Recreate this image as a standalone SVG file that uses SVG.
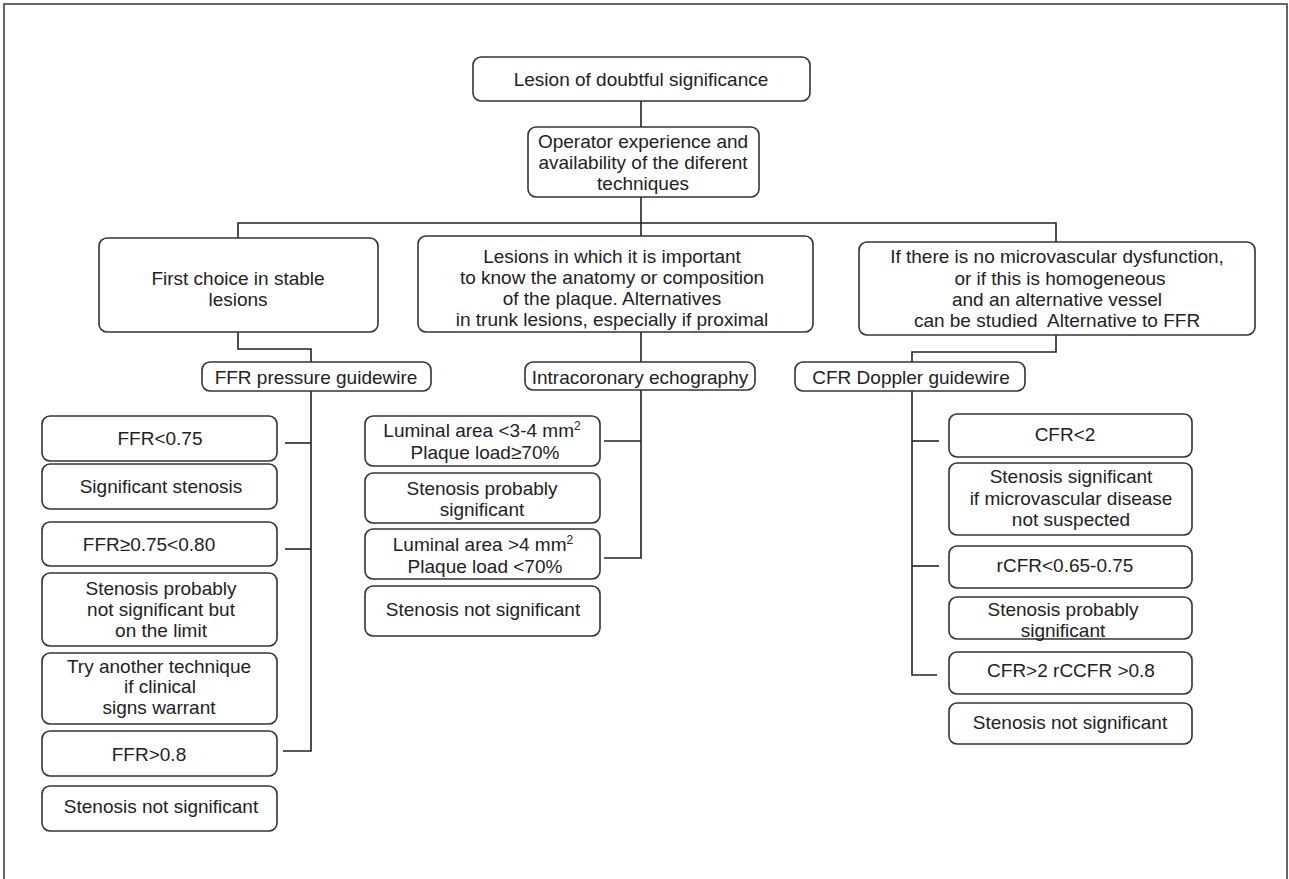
<svg xmlns="http://www.w3.org/2000/svg" width="1289" height="879" viewBox="0 0 1289 879">
<style>
.box{fill:#fff;stroke:#333;stroke-width:1.6}
.t{font-family:"Liberation Sans",Arial,sans-serif;font-size:19px;fill:#222;text-anchor:middle}
.sup{font-size:12px}
.c{fill:none;stroke:#222;stroke-width:1.6}
.frame{fill:none;stroke:#666;stroke-width:2}
</style>
<rect x="0" y="0" width="1289" height="879" fill="#fff"/>
<path class="frame" d="M4,879 V4 H1287 V879"/>
<g id="connectors">
<path class="c" d="M641,101 V127"/>
<path class="c" d="M641,197 V236"/>
<path class="c" d="M238,238 V223 H1056 V242"/>
<path class="c" d="M238,332 V349 H311 V362"/>
<path class="c" d="M311,391 V751 H283"/>
<path class="c" d="M285,443 H311"/>
<path class="c" d="M285,549 H311"/>
<path class="c" d="M641,332 V362"/>
<path class="c" d="M641,390 V558 H604"/>
<path class="c" d="M604,441 H641"/>
<path class="c" d="M1056,335 V352 H912 V362"/>
<path class="c" d="M912,391 V675 H937"/>
<path class="c" d="M912,441 H939"/>
<path class="c" d="M912,566 H939"/>
</g>
<g id="n-lesion"><rect class="box" x="473" y="57" width="337" height="44" rx="8"/><text class="t" x="641" y="86">Lesion of doubtful significance</text></g>
<g id="n-operator"><rect class="box" x="528" y="127" width="231" height="70" rx="8"/><text class="t" x="643" y="148">Operator experience and</text><text class="t" x="643" y="169">availability of the diferent</text><text class="t" x="643" y="190">techniques</text></g>
<g id="n-first"><rect class="box" x="99" y="238" width="279" height="94" rx="8"/><text class="t" x="238" y="285">First choice in stable</text><text class="t" x="238" y="306">lesions</text></g>
<g id="n-lesions-imp"><rect class="box" x="418" y="236" width="395" height="96" rx="8"/><text class="t" x="612" y="263">Lesions in which it is important</text><text class="t" x="612" y="284">to know the anatomy or composition</text><text class="t" x="612" y="305">of the plaque. Alternatives</text><text class="t" x="612" y="326">in trunk lesions, especially if proximal</text></g>
<g id="n-micro"><rect class="box" x="859" y="242" width="396" height="93" rx="8"/><text class="t" x="1057" y="263">If there is no microvascular dysfunction,</text><text class="t" x="1060" y="285">or if this is homogeneous</text><text class="t" x="1057" y="306">and an alternative vessel</text><text class="t" x="1057" y="327" style="white-space:pre">can be studied  Alternative to FFR</text></g>
<g id="n-ffr-wire"><rect class="box" x="202" y="362" width="229" height="29" rx="8"/><text class="t" x="316" y="384">FFR pressure guidewire</text></g>
<g id="n-ivus"><rect class="box" x="525" y="362" width="230" height="28" rx="8"/><text class="t" x="640" y="384">Intracoronary echography</text></g>
<g id="n-cfr-wire"><rect class="box" x="795" y="362" width="230" height="29" rx="8"/><text class="t" x="911" y="384">CFR Doppler guidewire</text></g>
<g id="n-ffr075"><rect class="box" x="42" y="416" width="235" height="45" rx="8"/><text class="t" x="160" y="445">FFR&lt;0.75</text></g>
<g id="n-sig"><rect class="box" x="42" y="464" width="235" height="45" rx="8"/><text class="t" x="161" y="493">Significant stenosis</text></g>
<g id="n-ffr075080"><rect class="box" x="42" y="522" width="235" height="44" rx="8"/><text class="t" x="149" y="551">FFR≥0.75&lt;0.80</text></g>
<g id="n-limit"><rect class="box" x="42" y="573" width="235" height="73" rx="8"/><text class="t" x="161" y="595">Stenosis probably</text><text class="t" x="161" y="616">not significant but</text><text class="t" x="161" y="637">on the limit</text></g>
<g id="n-try"><rect class="box" x="42" y="653" width="235" height="71" rx="8"/><text class="t" x="159" y="673">Try another technique</text><text class="t" x="160" y="693">if clinical</text><text class="t" x="159" y="714">signs warrant</text></g>
<g id="n-ffr08"><rect class="box" x="42" y="731" width="235" height="45" rx="8"/><text class="t" x="149" y="761">FFR&gt;0.8</text></g>
<g id="n-notsig-l"><rect class="box" x="42" y="786" width="235" height="45" rx="8"/><text class="t" x="161" y="813">Stenosis not significant</text></g>
<g id="n-lum34"><rect class="box" x="365" y="416" width="235" height="50" rx="8"/><text class="t" x="482" y="437">Luminal area &lt;3-4 mm<tspan class="sup" dy="-7">2</tspan></text><text class="t" x="485" y="459">Plaque load≥70%</text></g>
<g id="n-probsig-m"><rect class="box" x="365" y="473" width="235" height="50" rx="8"/><text class="t" x="482" y="495">Stenosis probably</text><text class="t" x="482" y="516">significant</text></g>
<g id="n-lum4"><rect class="box" x="365" y="529" width="235" height="50" rx="8"/><text class="t" x="483" y="551">Luminal area &gt;4 mm<tspan class="sup" dy="-7">2</tspan></text><text class="t" x="485" y="573">Plaque load &lt;70%</text></g>
<g id="n-notsig-m"><rect class="box" x="365" y="586" width="235" height="50" rx="8"/><text class="t" x="483" y="616">Stenosis not significant</text></g>
<g id="n-cfr2"><rect class="box" x="949" y="414" width="243" height="43" rx="8"/><text class="t" x="1065" y="441">CFR&lt;2</text></g>
<g id="n-sigif"><rect class="box" x="949" y="463" width="243" height="72" rx="8"/><text class="t" x="1071" y="483">Stenosis significant</text><text class="t" x="1071" y="505">if microvascular disease</text><text class="t" x="1071" y="526">not suspected</text></g>
<g id="n-rcfr"><rect class="box" x="949" y="546" width="243" height="42" rx="8"/><text class="t" x="1065" y="572">rCFR&lt;0.65-0.75</text></g>
<g id="n-probsig-r"><rect class="box" x="949" y="597" width="243" height="42" rx="8"/><text class="t" x="1063" y="616">Stenosis probably</text><text class="t" x="1063" y="637">significant</text></g>
<g id="n-cfrgt2"><rect class="box" x="949" y="652" width="243" height="42" rx="8"/><text class="t" x="1071" y="677">CFR&gt;2 rCCFR &gt;0.8</text></g>
<g id="n-notsig-r"><rect class="box" x="949" y="703" width="243" height="41" rx="8"/><text class="t" x="1070" y="729">Stenosis not significant</text></g>
</svg>
